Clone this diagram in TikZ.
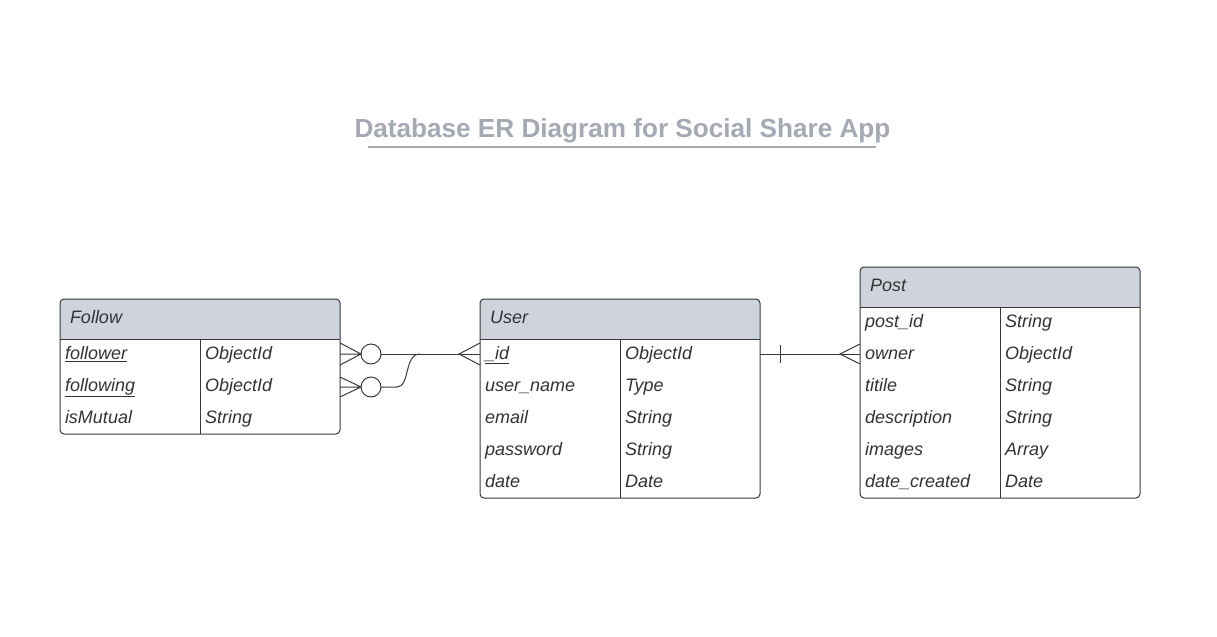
\documentclass[tikz,border=0pt]{standalone}
\usepackage{fontspec}
\setmainfont{Liberation Sans}
\usetikzlibrary{calc}
\begin{document}
\begin{tikzpicture}[x=0.75pt,y=-0.75pt,
  line width=0.75pt,
  every node/.style={inner sep=0pt, outer sep=0pt},
  ink/.style={draw=erline},
  boxnode/.style={draw=erline, rounded corners=3pt, inner sep=0pt, minimum width=210pt},
  cell/.style={anchor=base west, font=\fontsize{13.5}{16}\selectfont\itshape, text=ertext},
  conn/.style={draw=erline, line width=0.75pt},
  ring/.style={circle, draw=erline, fill=white, minimum size=15pt, line width=0.75pt}]
\definecolor{erline}{HTML}{3A3A3A}
\definecolor{ertext}{HTML}{333333}
\definecolor{hdr}{HTML}{CED3DC}
\definecolor{titlec}{HTML}{A4A9B3}
\useasboundingbox (0,0) rectangle (1217,636);
% ---- title
\node[font=\fontsize{19.6}{23}\selectfont\bfseries, text=titlec, anchor=base] (title) at (622.5,137) {Database ER Diagram for Social Share App};
\draw[titlec, line width=1.5pt] (368,147) -- (876,147);
% ---- header fills
\fill[hdr, rounded corners=3pt] (60,299) rectangle (340,350);
\fill[white] (60,339) rectangle (340,360);
\fill[hdr, rounded corners=3pt] (480,299) rectangle (760,350);
\fill[white] (480,339) rectangle (760,360);
\fill[hdr, rounded corners=3pt] (860,267) rectangle (1140,318);
\fill[white] (860,307) rectangle (1140,328);
% ---- boxes
\node[boxnode, minimum height=101.25pt] (follow) at (200,366.5) {};
\node[boxnode, minimum height=149.25pt] (user) at (620,398.5) {};
\node[boxnode, minimum height=173.25pt] (post) at (1000,382.5) {};
% header lines and dividers
\draw[ink] (60,339) -- (340,339) (200,339) -- (200,434);
\draw[ink] (480,339) -- (760,339) (620,339) -- (620,498);
\draw[ink] (860,307) -- (1140,307) (1000,307) -- (1000,498);
% ---- Follow
\node[cell] (fh) at (70,323) {Follow};
\node[cell] (fa1) at (65,359) {\underline{follower}};
\node[cell] (fb1) at (205,359) {ObjectId};
\node[cell] (fa2) at (65,391) {\underline{following}};
\node[cell] (fb2) at (205,391) {ObjectId};
\node[cell] (fa3) at (65,423) {isMutual};
\node[cell] (fb3) at (205,423) {String};
% ---- User
\node[cell] (uh) at (490,323) {User};
\node[cell] (ua1) at (485,359) {\underline{\_id}};
\node[cell] (ub1) at (625,359) {ObjectId};
\node[cell] (ua2) at (485,391) {user\_name};
\node[cell] (ub2) at (625,391) {Type};
\node[cell] (ua3) at (485,423) {email};
\node[cell] (ub3) at (625,423) {String};
\node[cell] (ua4) at (485,455) {password};
\node[cell] (ub4) at (625,455) {String};
\node[cell] (ua5) at (485,487) {date};
\node[cell] (ub5) at (625,487) {Date};
% ---- Post
\node[cell] (ph) at (870,291) {Post};
\node[cell] (pa1) at (865,327) {post\_id};
\node[cell] (pb1) at (1005,327) {String};
\node[cell] (pa2) at (865,359) {owner};
\node[cell] (pb2) at (1005,359) {ObjectId};
\node[cell] (pa3) at (865,391) {titile};
\node[cell] (pb3) at (1005,391) {String};
\node[cell] (pa4) at (865,423) {description};
\node[cell] (pb4) at (1005,423) {String};
\node[cell] (pa5) at (865,455) {images};
\node[cell] (pb5) at (1005,455) {Array};
\node[cell] (pa6) at (865,487) {date\_created};
\node[cell] (pb6) at (1005,487) {Date};
% ---- ports
\coordinate (fp1) at (340,354);
\coordinate (fp2) at (340,387);
\coordinate (up1) at (480,354);
\coordinate (upr) at (760,354);
\coordinate (pp1) at (860,354);
\coordinate (join) at (420,354);
% ---- Follow.follower / following -> User._id
\node[ring] (r1) at (371,354) {};
\node[ring] (r2) at (371,387) {};
\draw[conn] ($(fp1)+(0,-11)$) -- (r1.west) -- ($(fp1)+(0,11)$) (fp1) -- (r1.west);
\draw[conn] ($(fp2)+(0,-10)$) -- (r2.west) -- ($(fp2)+(0,10)$) (fp2) -- (r2.west);
\draw[conn] (r1.east) -- (up1);
\draw[conn] (r2.east) -- (397,387) .. controls (410,387) and (404,354) .. (join);
\draw[conn] ($(up1)+(0,-11)$) -- (459,354) -- ($(up1)+(0,11)$);
% ---- User._id -> Post.owner
\draw[conn] (upr) -- (pp1);
\draw[conn] (780,345) -- (780,363);
\draw[conn] ($(pp1)+(0,-10)$) -- (840,354) -- ($(pp1)+(0,10)$);
\end{tikzpicture}
\end{document}
